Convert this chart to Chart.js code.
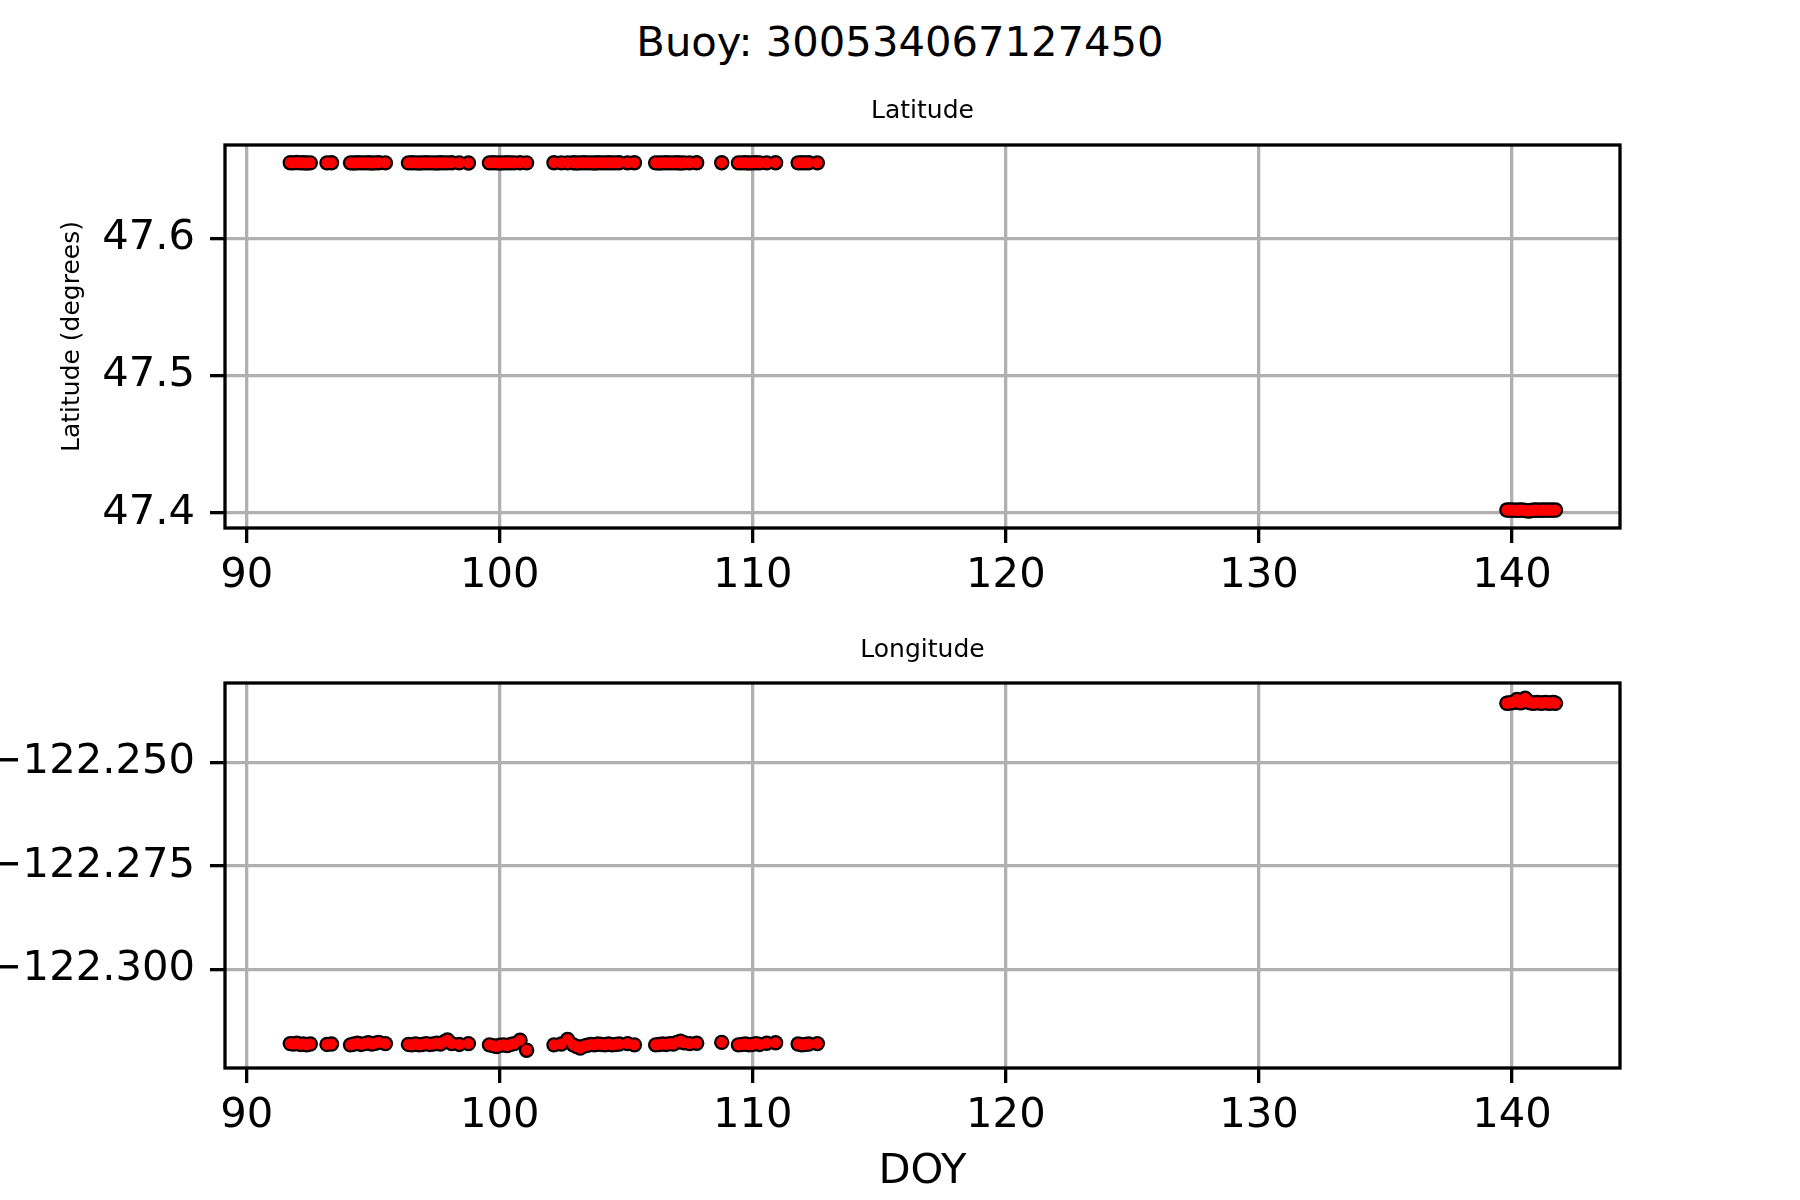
<!DOCTYPE html>
<html>
<head>
<meta charset="utf-8">
<title>Buoy: 300534067127450</title>
<script src="https://cdn.jsdelivr.net/npm/chart.js@4.4.1/dist/chart.umd.min.js"></script>
<style>
  html, body { margin: 0; padding: 0; background: #fff; }
  #page { position: relative; width: 1800px; height: 1200px; overflow: hidden; }
  #suptitle {
    position: absolute; left: 0; top: 12px; width: 1800px; height: 60px;
    line-height: 60px; text-align: center;
    font-family: "DejaVu Sans", sans-serif; font-size: 41.7px; color: #000;
  }
  canvas { position: absolute; left: 0; }
  #latChart { top: 0; }
  #lonChart { top: 600px; }
</style>
</head>
<body>
<div id="page">
  <div id="suptitle">Buoy: 300534067127450</div>
  <canvas id="latChart" width="1800" height="600"></canvas>
  <canvas id="lonChart" width="1800" height="600"></canvas>
</div>
<script>
// --- Data ---
const doy = [
  91.72, 91.85, 91.98, 92.11, 92.24, 92.37, 92.51,
  93.17, 93.35,
  94.10, 94.24, 94.38, 94.52, 94.66, 94.80, 94.94, 95.08, 95.22, 95.48,
  96.39, 96.53, 96.67, 96.81, 96.95, 97.09, 97.23, 97.37, 97.51, 97.65, 97.79, 97.93, 98.10, 98.40, 98.76,
  99.59, 99.73, 99.87, 100.01, 100.15, 100.29, 100.43, 100.57, 100.80, 101.06,
  102.14, 102.43, 102.68, 102.90, 103.04, 103.18, 103.32, 103.46, 103.60, 103.74, 103.88, 104.02, 104.16, 104.30, 104.44, 104.58, 104.72,
  105.05, 105.32,
  106.16, 106.30, 106.44, 106.58, 106.72, 106.86, 107.00, 107.14, 107.28, 107.50, 107.78,
  108.77,
  109.43, 109.57, 109.71, 109.85, 109.99, 110.13, 110.27, 110.55, 110.90,
  111.79, 111.93, 112.07, 112.21, 112.55,
  139.80, 139.88, 139.96, 140.04, 140.12, 140.20, 140.28, 140.36, 140.44, 140.52, 140.60, 140.68, 140.76,
  140.84, 140.92, 141.00, 141.08, 141.16, 141.24, 141.32, 141.40, 141.48, 141.56, 141.64, 141.72
];

const latitude = [
  47.6551, 47.6550, 47.6552, 47.6550, 47.6551, 47.6549, 47.6550,
  47.6550, 47.6551,
  47.6550, 47.6549, 47.6551, 47.6550, 47.6550, 47.6551, 47.6549, 47.6550, 47.6551, 47.6550,
  47.6550, 47.6551, 47.6550, 47.6549, 47.6550, 47.6551, 47.6550, 47.6550, 47.6549, 47.6551, 47.6550, 47.6550, 47.6551, 47.6550, 47.6549,
  47.6550, 47.6551, 47.6550, 47.6549, 47.6550, 47.6551, 47.6550, 47.6550, 47.6551, 47.6550,
  47.6551, 47.6550, 47.6550, 47.6551, 47.6549, 47.6550, 47.6551, 47.6550, 47.6550, 47.6549, 47.6551, 47.6550, 47.6550, 47.6551, 47.6550, 47.6550, 47.6551,
  47.6550, 47.6551,
  47.6550, 47.6549, 47.6550, 47.6551, 47.6550, 47.6550, 47.6551, 47.6549, 47.6550, 47.6550, 47.6551,
  47.6551,
  47.6550, 47.6550, 47.6551, 47.6549, 47.6550, 47.6551, 47.6550, 47.6550, 47.6551,
  47.6550, 47.6551, 47.6550, 47.6551, 47.6550,
  47.4021, 47.4020, 47.4021, 47.4020, 47.4020, 47.4019, 47.4020, 47.4021, 47.4020, 47.4018, 47.4015, 47.4013, 47.4017,
  47.4020, 47.4021, 47.4020, 47.4019, 47.4020, 47.4021, 47.4020, 47.4020, 47.4021, 47.4020, 47.4020, 47.4021
];

const longitude = [
  -122.3180, -122.3181, -122.3179, -122.3182, -122.3181, -122.3183, -122.3181,
  -122.3182, -122.3181,
  -122.3183, -122.3181, -122.3179, -122.3182, -122.3180, -122.3178, -122.3181, -122.3179, -122.3177, -122.3180,
  -122.3182, -122.3183, -122.3181, -122.3183, -122.3182, -122.3180, -122.3182, -122.3181, -122.3179, -122.3181, -122.3176, -122.3171, -122.3180, -122.3182, -122.3180,
  -122.3183, -122.3185, -122.3187, -122.3184, -122.3183, -122.3185, -122.3182, -122.3180, -122.3172, -122.3196,
  -122.3183, -122.3181, -122.3170, -122.3183, -122.3187, -122.3191, -122.3186, -122.3184, -122.3182, -122.3183, -122.3181, -122.3182, -122.3183, -122.3181, -122.3183, -122.3182, -122.3181,
  -122.3180, -122.3183,
  -122.3183, -122.3182, -122.3181, -122.3182, -122.3180, -122.3181, -122.3177, -122.3174, -122.3178, -122.3180, -122.3179,
  -122.3177,
  -122.3183, -122.3182, -122.3181, -122.3183, -122.3182, -122.3180, -122.3182, -122.3179, -122.3178,
  -122.3181, -122.3183, -122.3182, -122.3181, -122.3180,
  -122.2357, -122.2356, -122.2356, -122.2355, -122.2353, -122.2348, -122.2355, -122.2356, -122.2352, -122.2345, -122.2350, -122.2355, -122.2356,
  -122.2357, -122.2356, -122.2355, -122.2356, -122.2357, -122.2356, -122.2355, -122.2356, -122.2357, -122.2356, -122.2355, -122.2357
];

const doyTicks = [90, 100, 110, 120, 130, 140];
const latTicks = [47.4, 47.5, 47.6];
const lonTicks = [-122.300, -122.275, -122.250];

const doyRange = [89.14, 144.27];
const latRange = [47.389, 47.668];
const lonRange = [-122.3239, -122.2308];

// --- Shared styling ---
const FONT = '"DejaVu Sans", sans-serif';
const LW = 3.3;

Chart.defaults.font.family = FONT;
Chart.defaults.color = '#000';

// frame around the plot area (all four spines)
const framePlugin = {
  id: 'frame',
  afterDraw(chart) {
    const { ctx, chartArea: a } = chart;
    ctx.save();
    ctx.strokeStyle = '#000';
    ctx.lineWidth = LW;
    ctx.strokeRect(a.left, a.top, a.right - a.left, a.bottom - a.top);
    ctx.restore();
  }
};

const toPoints = (ys) => doy.map((x, i) => ({ x: x, y: ys[i] }));

const tickFont = { size: 41.7, family: FONT, lineHeight: 1.2 };

const makeAxis = (range, ticks, extra) => Object.assign({
  type: 'linear',
  min: range[0],
  max: range[1],
  afterBuildTicks: (s) => { s.ticks = ticks.map(v => ({ value: v })); },
  grid: {
    color: '#b0b0b0',
    lineWidth: LW,
    drawTicks: true,
    tickLength: 15,
    tickColor: '#000',
    tickWidth: LW
  },
  border: { display: false }
}, extra);

// markers: black disc underneath, red disc on top -> red dots with a black rim
const makeChart = (id, ys, cfg) => new Chart(document.getElementById(id), {
  type: 'scatter',
  data: {
    datasets: [
      {
        data: toPoints(ys),
        backgroundColor: '#ff0000',
        borderWidth: 0,
        pointRadius: 5.5,
        pointHoverRadius: 5.5,
        order: 0
      },
      {
        data: toPoints(ys),
        backgroundColor: '#000',
        borderWidth: 0,
        pointRadius: 7.7,
        pointHoverRadius: 7.7,
        order: 1
      }
    ]
  },
  options: {
    responsive: false,
    animation: false,
    devicePixelRatio: 1,
    layout: { padding: { left: 0, right: 180, top: cfg.padTop, bottom: 0 } },
    plugins: {
      legend: { display: false },
      tooltip: { enabled: false },
      title: {
        display: true,
        text: cfg.title,
        fullSize: false,
        font: { size: 25, family: FONT, weight: 'normal', lineHeight: 1.2 },
        color: '#000',
        padding: cfg.titlePad
      }
    },
    scales: {
      x: makeAxis(doyRange, doyTicks, {
        position: 'bottom',
        title: cfg.xTitle,
        ticks: {
          callback: v => String(v),
          font: tickFont,
          color: '#000', autoSkip: false, maxRotation: 0, padding: 8
        },
        afterFit: (s) => { s.height = cfg.xHeight; }
      }),
      y: makeAxis(cfg.yRange, cfg.yTicks, {
        position: 'left',
        title: cfg.yTitle,
        ticks: {
          callback: cfg.yFmt,
          font: tickFont,
          color: '#000', autoSkip: false, padding: 15
        },
        afterFit: (s) => { s.width = 225; }
      })
    }
  },
  plugins: [framePlugin]
});

makeChart('latChart', latitude, {
  title: 'Latitude',
  padTop: 72,
  titlePad: { top: 24, bottom: 19 },
  xHeight: 72,
  xTitle: { display: false },
  yRange: latRange,
  yTicks: latTicks,
  yFmt: v => v.toFixed(1),
  yTitle: {
    display: true,
    text: 'Latitude (degrees)',
    font: { size: 25, family: FONT, lineHeight: 1.2 },
    color: '#000',
    padding: { top: 57, bottom: 0 }
  }
});

makeChart('lonChart', longitude, {
  title: 'Longitude',
  padTop: 0,
  titlePad: { top: 35, bottom: 18 },
  xHeight: 132,
  xTitle: {
    display: true,
    text: 'DOY',
    font: { size: 41.7, family: FONT, lineHeight: 1.2 },
    color: '#000',
    padding: { top: 0, bottom: 3 }
  },
  yRange: lonRange,
  yTicks: lonTicks,
  yFmt: v => (v < 0 ? '\u2212' : '') + Math.abs(v).toFixed(3),
  yTitle: { display: false }
});
</script>
</body>
</html>
